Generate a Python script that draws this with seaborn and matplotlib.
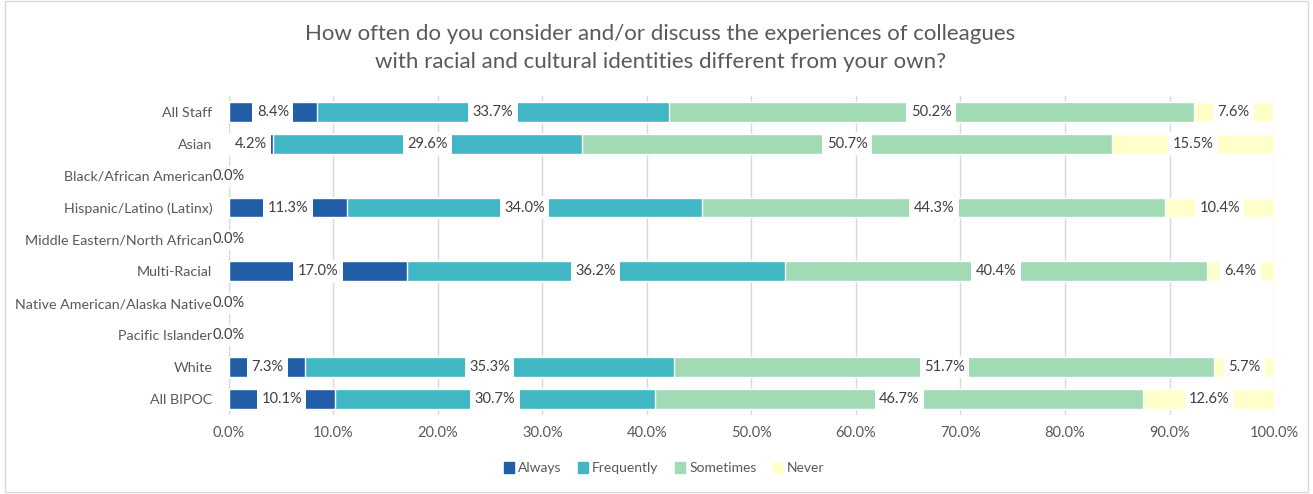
import numpy as np
import pandas as pd
import matplotlib
matplotlib.use("Agg")
import matplotlib.pyplot as plt
import seaborn as sns
from matplotlib.patches import Rectangle

# data
groups = ["All Staff", "Asian", "Black/African American", "Hispanic/Latino (Latinx)",
          "Middle Eastern/North African", "Multi-Racial", "Native American/Alaska Native",
          "Pacific Islander", "White", "All BIPOC"]
always = [8.4, 4.2, 0.0, 11.3, 0.0, 17.0, 0.0, 0.0, 7.3, 10.1]
frequently = [33.7, 29.6, 0.0, 34.0, 0.0, 36.2, 0.0, 0.0, 35.3, 30.7]
sometimes = [50.2, 50.7, 0.0, 44.3, 0.0, 40.4, 0.0, 0.0, 51.7, 46.7]
never = [7.6, 15.5, 0.0, 10.4, 0.0, 6.4, 0.0, 0.0, 5.7, 12.6]

series = ["Always", "Frequently", "Sometimes", "Never"]
colors = ["#225EA8", "#41B6C4", "#A1DAB4", "#FFFFCC"]

df = pd.DataFrame({"group": groups, "Always": always, "Frequently": frequently,
                   "Sometimes": sometimes, "Never": never})
cum = df[series].cumsum(axis=1)

sns.set_style("white")
plt.rcParams["font.family"] = ["Lato", "DejaVu Sans"]
txt = "#595959"

fig = plt.figure(figsize=(13.13, 4.94), dpi=100)
ax = fig.add_axes([0.1744, 0.16, 0.9703 - 0.1744, 0.646])

# stacked bars: draw cumulative totals from the back to the front
for s, c in reversed(list(zip(series, colors))):
    sns.barplot(x=cum[s], y=df["group"], orient="h", color=c, width=0.62,
                saturation=1, ax=ax, zorder=2)

ax.set_xlim(0, 100)
ax.set_ylim(len(groups) - 0.5, -0.5)
ax.set_xticks(np.arange(0, 101, 10))
ax.set_xticklabels([f"{v:.1f}%" for v in range(0, 101, 10)], fontsize=10.5, color=txt)
ax.tick_params(axis="y", labelsize=10.3, labelcolor=txt, length=0, pad=12)
ax.tick_params(axis="x", length=0, pad=8)
ax.set_xlabel("")
ax.set_ylabel("")
ax.grid(axis="x", color="#D9D9D9", linewidth=1, zorder=0)
ax.set_axisbelow(True)
for sp in ax.spines.values():
    sp.set_visible(False)

# data labels
for i in range(len(groups)):
    row = df.loc[i, series]
    if row.sum() == 0:
        ax.text(0, i, "0.0%", ha="center", va="center", fontsize=10.5, color="#404040", zorder=5)
        continue
    left = 0
    for s in series:
        v = row[s]
        ax.text(left + v / 2, i, f"{v:.1f}%", ha="center", va="center", fontsize=10.5,
                color="#404040", zorder=5,
                bbox=dict(boxstyle="square,pad=0.3", fc="white", ec="none"))
        left += v

fig.text(0.503, 0.932, "How often do you consider and/or discuss the experiences of colleagues",
         ha="center", va="center", fontsize=16, color=txt)
fig.text(0.503, 0.874, "with racial and cultural identities different from your own?",
         ha="center", va="center", fontsize=16, color=txt)

handles = [plt.Rectangle((0, 0), 1, 1, color=c) for c in colors]
fig.legend(handles, series, loc="center", bbox_to_anchor=(0.506, 0.053), ncol=4,
           frameon=False, fontsize=10, labelcolor=txt, handlelength=0.7,
           handleheight=0.9, handletextpad=0.3, columnspacing=1.2)

fig.patches.append(Rectangle((0.004, 0.004), 0.992, 0.994, transform=fig.transFigure,
                             fill=False, ec="#D9D9D9", lw=1))

fig.savefig("out.png", dpi=100)
